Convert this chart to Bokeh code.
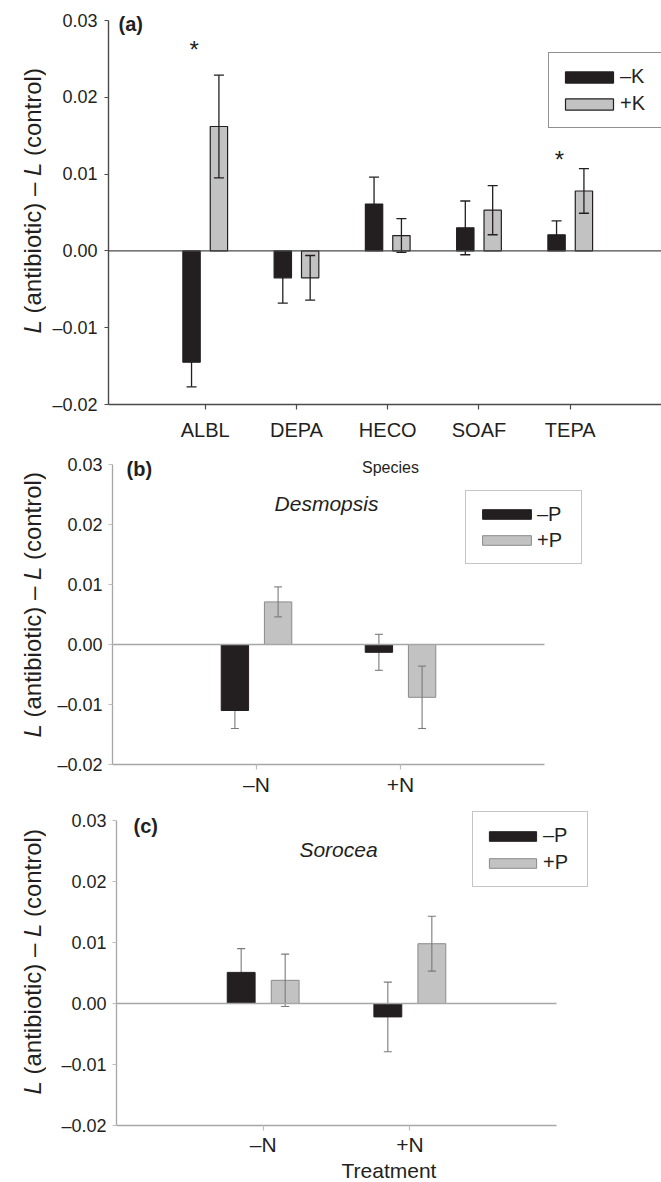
from math import pi
import numpy as np
from bokeh.plotting import figure
from bokeh.models import (ColumnDataSource, Range1d, FixedTicker, Label,
                          Legend, LegendItem, CustomJSTickFormatter)
from bokeh.layouts import column, row
from bokeh.embed import file_html
from bokeh.resources import INLINE
from bokeh.core.properties import value

FONT = "Liberation Sans"
TXT = "#231f20"
BLACK = "#231f20"
GRAY = "#c2c2c2"

# ---------------- data ----------------
species = ["ALBL", "DEPA", "HECO", "SOAF", "TEPA"]
minusK_mean = [-0.0145, -0.0035, 0.0061, 0.0030, 0.0021]
minusK_se = [0.0032, 0.0033, 0.0035, 0.0035, 0.0018]
plusK_mean = [0.0162, -0.0035, 0.0020, 0.0053, 0.0078]
plusK_se = [0.0067, 0.0029, 0.0022, 0.0032, 0.0029]
sig_species = ["ALBL", "TEPA"]
sig_y = [0.0262, 0.0119]

treatments = ["–N", "+N"]
desm_minusP_mean = [-0.0110, -0.0013]
desm_minusP_se = [0.0030, 0.0030]
desm_plusP_mean = [0.0071, -0.0088]
desm_plusP_se = [0.0025, 0.0052]

soro_minusP_mean = [0.0051, -0.0022]
soro_minusP_se = [0.0039, 0.0057]
soro_plusP_mean = [0.0038, 0.0098]
soro_plusP_se = [0.0043, 0.0045]

y_ticks = [-0.02, -0.01, 0.0, 0.01, 0.02, 0.03]
Y_LO, Y_HI = -0.02, 0.03

BAR_W = 0.19
OFF = 0.15
STRIP_W = 46      # strip left of each panel holding its rotated y-axis title


def make_panel(cats, m1, s1, m2, s2, leg_labels, *, frame_left, frame_w, frame_h,
               top, bottom, x_range, x_axis_end, y_end, st):
    p = figure(frame_width=frame_w, frame_height=frame_h,
               min_border_left=frame_left - STRIP_W, min_border_right=0,
               min_border_top=top, min_border_bottom=bottom,
               x_range=Range1d(*x_range), y_range=Range1d(Y_LO, y_end),
               output_backend="svg", toolbar_location=None, tools="")
    p.outline_line_color = None
    p.grid.visible = False
    p.background_fill_color = "white"
    p.border_fill_color = "white"

    pos = np.arange(1, len(cats) + 1)
    cap = st["cap"]
    rends = []
    for k, (m, s, fill, outline) in enumerate([(m1, s1, BLACK, BLACK),
                                                (m2, s2, GRAY, st["gray_line"])]):
        m = np.array(m)
        s = np.array(s)
        x = pos + (-OFF if k == 0 else OFF)
        src = ColumnDataSource(dict(x=x, m=m, lo=m - s, hi=m + s,
                                    c0=x - cap / 2, c1=x + cap / 2))

        def whiskers():
            kw = dict(source=src, line_color=st["err"], line_width=st["err_w"])
            p.segment(x0="x", y0="lo", x1="x", y1="hi", **kw)
            p.segment(x0="c0", y0="lo", x1="c1", y1="lo", **kw)
            p.segment(x0="c0", y0="hi", x1="c1", y1="hi", **kw)

        if k == 0:
            whiskers()
        r = p.vbar(x="x", top="m", bottom=0, width=BAR_W, source=src,
                   fill_color=fill, line_color=outline, line_width=st["bar_lw"])
        rends.append(r)
        if k == 1:
            whiskers()

    # zero reference line, as long as the x axis
    p.segment(x0=[x_range[0]], y0=[0], x1=[x_axis_end], y1=[0],
              line_color=st["axis"], line_width=st["axis_w"])

    # axes
    for ax in (p.xaxis[0], p.yaxis[0]):
        ax.axis_label = None
        ax.axis_line_color = st["axis"]
        ax.axis_line_width = st["axis_w"]
        ax.major_tick_line_color = st["tick"]
        ax.major_tick_line_width = 1.2
        ax.major_tick_in = 0
        ax.minor_tick_line_color = None
        ax.major_label_text_font = FONT
        ax.major_label_text_color = TXT
    p.yaxis.bounds = (Y_LO, Y_HI)
    p.yaxis.ticker = FixedTicker(ticks=y_ticks)
    p.yaxis.formatter = CustomJSTickFormatter(
        code="return (tick < -1e-9 ? '\u2013' : '') + Math.abs(tick).toFixed(2)")
    p.yaxis.major_tick_out = 4
    p.yaxis.major_label_text_font_size = "18px"
    p.yaxis.major_label_standoff = st["ystandoff"]

    p.xaxis.bounds = (x_range[0], x_axis_end)
    p.xaxis.ticker = FixedTicker(ticks=list(pos))
    p.xaxis.formatter = CustomJSTickFormatter(
        args=dict(labels=list(cats)),
        code="return labels[Math.round(tick) - 1]")
    p.xaxis.major_tick_out = 5
    p.xaxis.major_label_text_font_size = st["xfs"]
    p.xaxis.major_label_standoff = st["xstandoff"]

    leg = Legend(items=[LegendItem(label=value(leg_labels[0]), renderers=[rends[0]]),
                        LegendItem(label=value(leg_labels[1]), renderers=[rends[1]])],
                 location=st["leg_loc"], orientation="vertical",
                 label_text_font=FONT, label_text_font_size="20px",
                 label_text_color=TXT,
                 glyph_width=st["gw"], glyph_height=st["gh"],
                 padding=10, spacing=st["leg_sp"], label_height=st["leg_lh"],
                 label_standoff=st["leg_so"], label_width=st["leg_lw"],
                 margin=0, border_line_color=st["leg_border"],
                 border_line_width=st["leg_bw"], background_fill_color="white",
                 background_fill_alpha=1.0)
    p.add_layout(leg)
    return p


def add_text(p, x, y, text, size, style="normal", align="left"):
    p.add_layout(Label(x=x, y=y, x_units="screen", y_units="screen", text=text,
                       text_font=FONT, text_font_size=size, text_font_style=style,
                       text_align=align, text_baseline="middle", text_color=TXT))


def ylabel_strip(top, frame_h, bottom, label_bottom_above_frame_bottom, F=24):
    """Narrow strip left of a panel (same borders as the panel) holding the
    rotated y-axis title 'L (antibiotic) – L (control)' with italic L."""
    s = figure(frame_width=STRIP_W, frame_height=frame_h,
               min_border_left=0, min_border_right=0,
               min_border_top=top, min_border_bottom=bottom,
               x_range=Range1d(0, 1), y_range=Range1d(0, 1),
               x_axis_location=None, y_axis_location=None,
               output_backend="svg", toolbar_location=None, tools="")
    s.outline_line_color = None
    s.grid.visible = False
    pieces = [("L", "italic", 0.0), ("(antibiotic) –", "normal", 0.834),
              ("L", "italic", 6.558), ("(control)", "normal", 7.392)]
    for text, style, off in pieces:
        s.add_layout(Label(x=32, y=label_bottom_above_frame_bottom + off * F,
                           x_units="screen", y_units="screen", text=text,
                           angle=pi / 2, text_font=FONT, text_font_style=style,
                           text_font_size=f"{F}px", text_align="left",
                           text_baseline="alphabetic", text_color=TXT))
    return s


st_a = dict(cap=0.11, err=BLACK, err_w=1.3, gray_line=BLACK, bar_lw=1.2,
            axis="#4a4a4a", axis_w=1.4, tick="#4a4a4a", ystandoff=7,
            xfs="20px", xstandoff=9, leg_loc=(440, 276), gw=60, gh=14,
            leg_sp=-2, leg_lh=27, leg_so=1, leg_lw=31, leg_border=BLACK, leg_bw=1.3)
st_b = dict(cap=0.055, err="#7a7a7a", err_w=1.1, gray_line="#8a8a8a", bar_lw=1.0,
            axis="#a6a6a6", axis_w=1.3, tick="#bdbdbd", ystandoff=6,
            xfs="21px", xstandoff=3, leg_loc=(353, 200), gw=61, gh=12,
            leg_sp=0, leg_lh=26, leg_so=0, leg_lw=34, leg_border="#8c8c8c", leg_bw=1.2)
st_c = dict(st_b)
st_c.update(leg_loc=(356, 238), gw=59, gh=12, leg_sp=-1, leg_lh=27, leg_so=1,
            leg_lw=34, xstandoff=2)

# ---- panel (a): page rows 0-441, frame x 108-661, axis 0.03 at y=20, -0.02 at y=404 ----
pa = make_panel(species, minusK_mean, minusK_se, plusK_mean, plusK_se, ["–K", "+K"],
                frame_left=108, frame_w=553, frame_h=402, top=2, bottom=37,
                x_range=(-0.06, 6.0), x_axis_end=6.0,
                y_end=Y_HI + 18 * (Y_HI - Y_LO) / 384, st=st_a)
sig_x = [species.index(s) + 1 - 0.12 for s in sig_species]
pa.text(x=sig_x, y=sig_y, text=["*"] * len(sig_x), text_font=value(FONT),
        text_font_size="24px", text_align="center", text_baseline="middle",
        text_color=TXT)
add_text(pa, 10, 381, "(a)", "20px", style="bold")
sa = ylabel_strip(2, 402, 37, 404 - 333)

# ---- panel (b): page rows 441-800, frame x 112-661, axis 0.03 at y=462, -0.02 at y=762 ----
pb = make_panel(treatments, desm_minusP_mean, desm_minusP_se, desm_plusP_mean,
                desm_plusP_se, ["–P", "+P"],
                frame_left=112, frame_w=549, frame_h=319, top=2, bottom=38,
                x_range=(0, 549 / 144), x_axis_end=3,
                y_end=Y_HI + 19 * (Y_HI - Y_LO) / 300, st=st_b)
add_text(pb, 14, 296, "(b)", "20px", style="bold")
add_text(pb, 278, 297, "Species", "16px", align="center")
add_text(pb, 214, 261, "Desmopsis", "21px", style="italic", align="center")
sb = ylabel_strip(2, 319, 38, 762 - 735)

# ---- panel (c): page rows 800-1182, frame x 116-661, axis 0.03 at y=818, -0.02 at y=1123 ----
pc = make_panel(treatments, soro_minusP_mean, soro_minusP_se, soro_plusP_mean,
                soro_plusP_se, ["–P", "+P"],
                frame_left=116, frame_w=545, frame_h=321, top=2, bottom=59,
                x_range=(0, 545 / 146.67), x_axis_end=3,
                y_end=Y_HI + 16 * (Y_HI - Y_LO) / 305, st=st_c)
pc.xaxis.axis_label = "Treatment"
pc.xaxis.axis_label_text_font = FONT
pc.xaxis.axis_label_text_font_size = "21px"
pc.xaxis.axis_label_text_font_style = "normal"
pc.xaxis.axis_label_text_color = TXT
pc.xaxis.axis_label_standoff = 0
add_text(pc, 17, 300, "(c)", "20px", style="bold")
add_text(pc, 222, 276, "Sorocea", "21px", style="italic", align="center")
sc = ylabel_strip(2, 321, 59, 1123 - 1092)

layout = column(row(sa, pa, spacing=0), row(sb, pb, spacing=0),
                row(sc, pc, spacing=0), spacing=0)
open("out.html", "w").write(file_html(layout, INLINE))
